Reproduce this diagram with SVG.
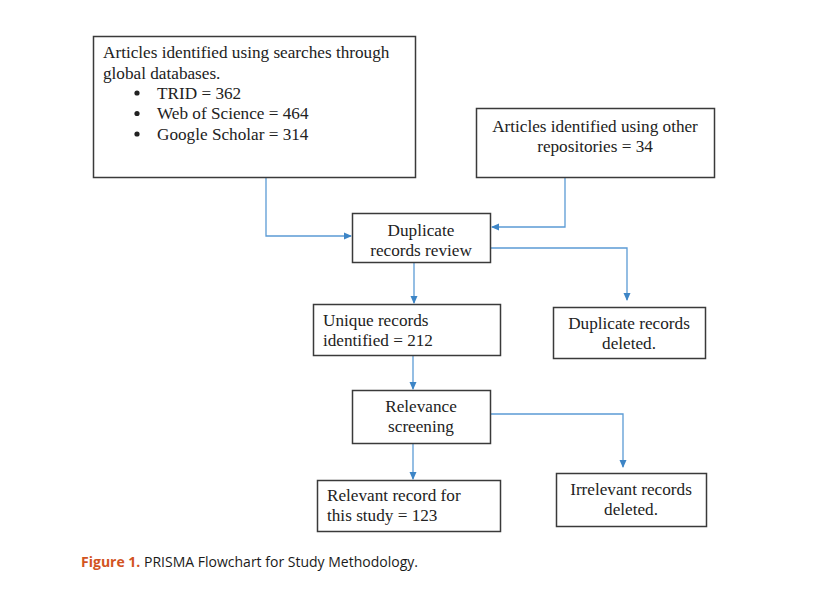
<svg xmlns="http://www.w3.org/2000/svg" width="824" height="604" viewBox="0 0 824 604">
<style>
.box{fill:#fff;stroke:#3a3a3a;stroke-width:1.5}
.t{font-family:"Liberation Serif","Times New Roman",serif;font-size:17.2px;fill:#222}
.c{text-anchor:middle}
.conn{fill:none;stroke:#5b9bd5;stroke-width:1.3}
.cap{font-family:"Open Sans","Liberation Sans",sans-serif;font-size:14.5px;fill:#1a1a1a}
</style>
<defs>
<marker id="ah" markerWidth="8" markerHeight="8" refX="7" refY="4" orient="auto" markerUnits="userSpaceOnUse">
<path d="M0,0.5 L8,4 L0,7.5 Z" fill="#3d85c6"/>
</marker>
</defs>
<rect width="824" height="604" fill="#fff"/>
<g id="connectors">
<path class="conn" d="M266,178 V236 H351" marker-end="url(#ah)"/>
<path class="conn" d="M565,178 V227 H492" marker-end="url(#ah)"/>
<path class="conn" d="M491,248 H627 V300" marker-end="url(#ah)"/>
<path class="conn" d="M414,262 V303" marker-end="url(#ah)"/>
<path class="conn" d="M413,356 V389" marker-end="url(#ah)"/>
<path class="conn" d="M491,414 H623 V467" marker-end="url(#ah)"/>
<path class="conn" d="M413,444 V479" marker-end="url(#ah)"/>
</g>
<g id="n1">
<rect class="box" x="93.5" y="36.5" width="322" height="141"/>
<text class="t" x="103" y="58">Articles identified using searches through</text>
<text class="t" x="103" y="78.5">global databases.</text>
<circle cx="137" cy="93" r="2.6" fill="#222"/>
<circle cx="137" cy="113.5" r="2.6" fill="#222"/>
<circle cx="137" cy="134" r="2.6" fill="#222"/>
<text class="t" x="157" y="98.5">TRID = 362</text>
<text class="t" x="157" y="119">Web of Science = 464</text>
<text class="t" x="157" y="139.5">Google Scholar = 314</text>
</g>
<g id="n2">
<rect class="box" x="476.5" y="108.5" width="238" height="69"/>
<text class="t c" x="595" y="132">Articles identified using other</text>
<text class="t c" x="595" y="152">repositories = 34</text>
</g>
<g id="n3">
<rect class="box" x="352.5" y="213.5" width="138" height="49"/>
<text class="t c" x="421" y="236">Duplicate</text>
<text class="t c" x="421" y="256">records review</text>
</g>
<g id="n4">
<rect class="box" x="313.5" y="304.5" width="187" height="51"/>
<text class="t" x="323" y="326">Unique records</text>
<text class="t" x="323" y="346">identified = 212</text>
</g>
<g id="n5">
<rect class="box" x="553.5" y="307.5" width="152" height="51"/>
<text class="t c" x="629" y="329">Duplicate records</text>
<text class="t c" x="629" y="349">deleted.</text>
</g>
<g id="n6">
<rect class="box" x="352.5" y="390.5" width="138" height="53"/>
<text class="t c" x="421" y="412">Relevance</text>
<text class="t c" x="421" y="432">screening</text>
</g>
<g id="n7">
<rect class="box" x="317.5" y="480.5" width="183" height="51"/>
<text class="t" x="327" y="501">Relevant record for</text>
<text class="t" x="327" y="521">this study = 123</text>
</g>
<g id="n8">
<rect class="box" x="556.5" y="473.5" width="150" height="53"/>
<text class="t c" x="631" y="495">Irrelevant records</text>
<text class="t c" x="631" y="515">deleted.</text>
</g>
<text class="cap" x="81" y="567" textLength="337" lengthAdjust="spacingAndGlyphs"><tspan fill="#d2541f" font-weight="bold">Figure 1.</tspan> PRISMA Flowchart for Study Methodology.</text>
</svg>
